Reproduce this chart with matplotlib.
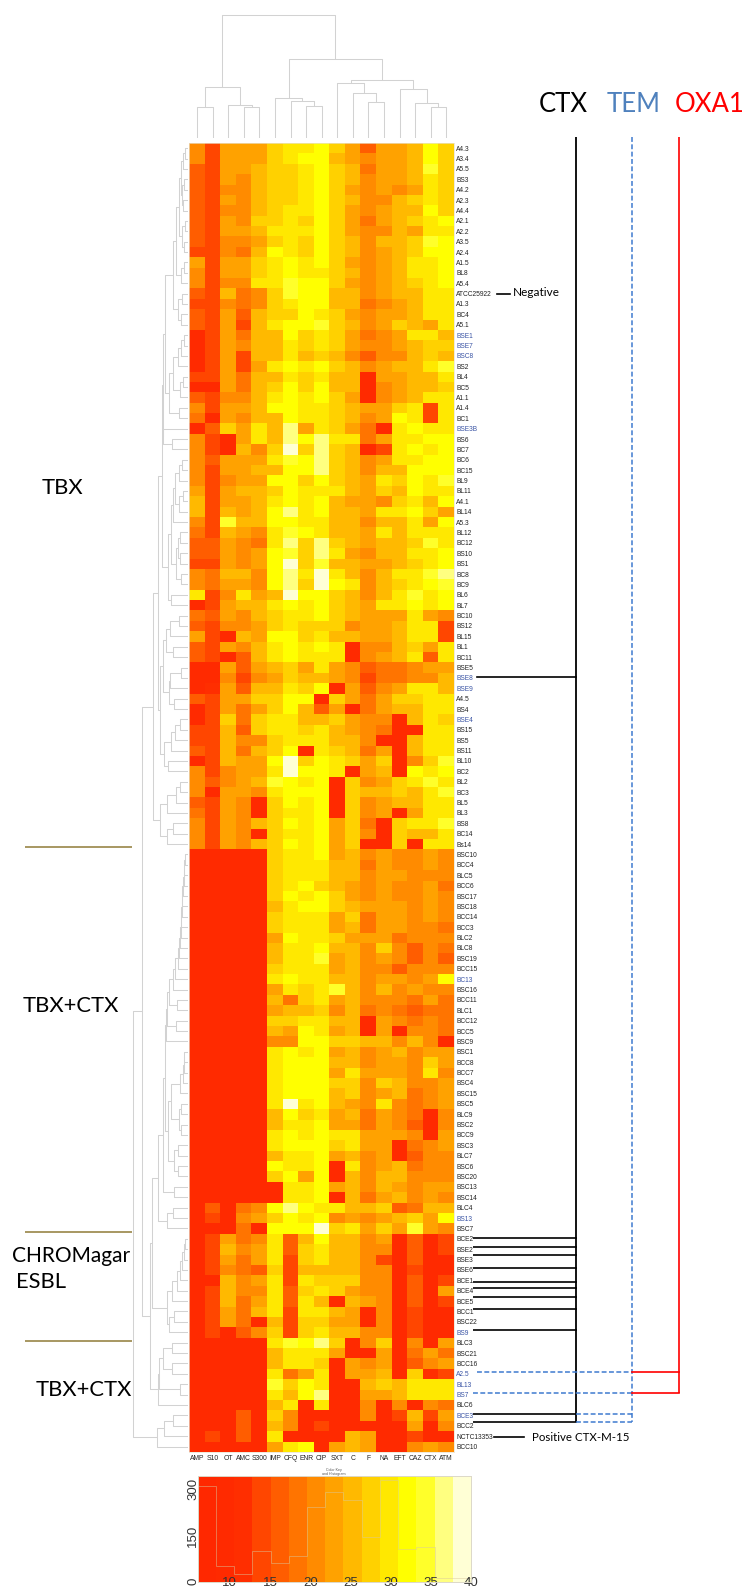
import numpy as np
import matplotlib
matplotlib.use("Agg")
import matplotlib.pyplot as plt
from matplotlib.colors import ListedColormap, BoundaryNorm

W, H = 747, 1591

columns = ["AMP","S10","OT","AMC","S300","IMP","CFQ","ENR","CIP","SXT","C","F","NA","EFT","CAZ","CTX","ATM"]

row_labels = ["A4.3","A3.4","A5.5","BS3","A4.2","A2.3","A4.4","A2.1","A2.2","A3.5","A2.4","A1.5","BL8","A5.4",
 "ATCC25922","A1.3","BC4","A5.1","BSE1","BSE7","BSC8","BS2","BL4","BC5","A1.1","A1.4","BC1","BSE3B",
 "BS6","BC7","BC6","BC15","BL9","BL11","A4.1","BL14","A5.3","BL12","BC12","BS10","BS1","BC8","BC9","BL6","BL7",
 "BC10","BS12","BL15","BL1","BC11","BSE5","BSE8","BSE9","A4.5","BS4","BSE4","BS15",
 "BS5","BS11","BL10","BC2","BL2","BC3","BL5","BL3","BS8","BC14","Bs14",
 "BSC10","BCC4","BLC5","BCC6","BSC17","BSC18","BCC14","BCC3","BLC2","BLC8","BSC19","BCC15","BC13","BSC16",
 "BCC11","BLC1","BCC12","BCC5","BSC9",
 "BSC1","BCC8","BCC7","BSC4","BSC15","BSC5","BLC9","BSC2","BCC9","BSC3","BLC7","BSC6","BSC20","BSC13","BSC14",
 "BLC4","BS13","BSC7",
 "BCE2","BSE2","BSE3","BSE6","BCE1","BCE4","BCE5","BCC1","BSC22","BS9","BLC3","BSC21","BCC16","A2.5","BL13",
 "BS7","BLC6","BCE3","BCC2","NCTC13353","BCC10"]

blue_labels = ["BSE1","BSE7","BSC8","BSE3B","BSE8","BSE9","BSE4","BC13","BS13","BS9","A2.5","BL13","BS7","BCE3"]

# colour class of every cell (hex digit 0-e = class of the 15-step key), one string per row
zone_classes = [
"63777 9aab9 74778b9","63777 9abb8 76778b9","43778 99ab9 85778c9","43768 99ab9 86778a9","43668 99ab9 76767a9",
"43768 99ab9 86689a9","43668 9aab9 76788b9","43769 9a9b9 75789ab","43778 aaab9 76687aa","43667 9a9b9 86889cb",
"33658 ba9b9 86789bb","73779 abab9 7678aab","63779 abaa9 8678aab","6366a acbb9 76789ab","43856 9cbb8 86788aa",
"33656 9abb8 85678aa","43748 99ba9 76778aa","43738 abbc9 867987a","13758 8b9a9 7567aa8","13768 8a9a9 7667899",
"13738 8a898 6466898","13737 abab9 86788ac","33758 8a9a8 817788a","11758 9b9b8 8167889","43668 abab9 71678aa",
"63778 bbaa9 8779a3a","51768 8baa9 867ba3a","1497a 8d7a9 751abaa",
"6317a 8dbda a57aabb","63186 9e9d9 813abab","64777 acbd9 867aabb","63778 8bbd9 8688bbb","63677 bb9b9 87a9bac",
"73788 9baaa 8798baa","83778 abab8 7769a8b","83878 bdab8 87aab97","63c88 bbaa8 8688a7b","53876 acba8 87a8aaa",
"44765 ad9d9 87889ca","44767 bc9da 7688aab","33767 be9c8 87789ab","65886 bdaea 868aacd","65776 bd9eb a689abc",
"a36a7 8ebb9 868acab","13788 abab9 87aabab","54768 9aab9 8777a76","43667 9a999 6778aa3","73187 bb9a8 8778aa3",
"43768 ababa 166897a","43148 abaaa 1678a4a","11747 897a7 6455677","11636 79887 6355668","12748 8a9b1 7467aa8",
"43779 9bb19 75799aa","13757 9b847 15788aa","13959 aa889 76618a9","33849 aa9a8 76511aa",
"33866 9aaa8 86118aa","43858 9b1a9 85718aa","13877 be9ba 979169c","63677 aebba 1781bab","64678 cbab1 9679aca",
"61776 abbb1 98898ac","43761 9bab1 96788aa","53761 9aab1 96717aa","63768 9bab7 9519aac","63761 9aab7 961988a",
"63768 9bab7 91191aa",
"11111 9aab7 8676676","11111 9aaa8 8576676","11111 9aaa8 8677666","11111 9ab98 7676675","11111 9bab9 7676676",
"11111 8abb9 8777676","11111 9aaa7 9577676","11111 9aaa7 8577665","11111 7baa9 7775666","11111 8aab8 8696465",
"11111 8aac7 8676464","11111 9aaa7 8664666","11111 abaa8 867767b","11111 7a9ac 8686766","11111 859a7 8666575",
"11111 78896 8565455","11111 99aa8 8176565","11111 87ba7 8171665","11111 66bb9 9886861",
"11111 abab7 8678677","11111 abbb8 8677697","11111 abbb7 a7776a6","11111 abbb9 9698667","11111 abbb8 9678567",
"11111 aeab8 76a6567","11111 8b9a7 8576516","11111 8aab7 7576416","11111 ababa a777617","11111 abbb9 a771567",
"11111 8aab7 8671466","11111 baab1 a678566","11111 9b7b1 8688666","11111 1aab7 8687677","11111 1aab1 8578676",
"14156 bdbaa 8894588","13167 9bab6 767897b","11151 bbbe9 a797c76",
"13756 a48b8 8671413","13867 a49a8 8661413","13757 a39a8 8631411","13654 93888 8661311","11867 a3a99 9661413",
"13866 a49a9 7661417","13857 a4a81 8761413","13758 a3aa8 7161311","13751 83997 7161311","13146 939a8 8661311",
"11111 acbd9 1691617","11111 8aaa7 1171575","11111 8aa91 7671467","11111 a57a1 7781923","11111 c9ba1 1898aaa",
"11111 a8bd1 1778aaa","11111 8a1a1 1616165","11141 96111 1613837","11141 86131 1111716","13141 a1111 8711311",
"11111 7ab17 8711676"]

key_colors = ["#FF2800","#FF2A00","#FF2E00","#FF4600","#FF5D00","#FF7400","#FF8B00","#FFA200","#FFB900",
              "#FFD100","#FFE800","#FFFF00","#FFFF2A","#FFFF80","#FFFFD5"]
key_min, key_max = 6, 40
hist_counts = [312,51,24,101,62,83,242,291,265,146,330,106,114,13,11]
hist_ticks = [0,150,300]
key_ticks = [10,15,20,25,30,35,40]

# column dendrogram: (height, left, right); 0 is a leaf
col_tree = [122.7,
    [51,[31.3,0,0],[32.7,0,[30.7,0,0]]],
    [78.7,
     [40.3,0,[36.7,0,[32.3,0,0]]],
     [58.3,
      [55.3,0,[44.7,0,[36.3,0,0]]],
      [48.7,0,[35.3,0,[30.7,0,0]]]]]]

def comb(heights):
    node = 0
    for h in heights:
        node = [h, node, 0]
    return node

# row dendrogram, merge heights in the same unit (distance from the heat map)
T1_11 = [9,[7,[5,[3,0,0],0],[6,[4,0,0],[5,0,0]]],[6,[3,0,0],[4,0,0]]]
T1_14 = [12,T1_11,[7,[4,0,0],0]]
T1_18 = [15,T1_14,[10,[6,0,0],[7,0,0]]]
T19_25 = [15,[10,[7,[4,0,0],0],0],[8,[5,0,0],0]]
T1_27 = [23,T1_18,[19,T19_25,[9,0,0]]]
T1_30 = [25,T1_27,[25,0,[16,0,0]]]
T31_37 = [15,[13,[9,[6,0,0],0],[9,[5,0,0],0]],0]
T38_43 = [12,[10,[8,0,0],[8,0,0]],[7,0,0]]
T31_45 = [20,[17,T31_37,T38_43],[17,0,0]]
T1_45 = [26,T1_30,T31_45]
T46_50 = [22,[18,[9,0,0],0],[15,0,0]]
T51_55 = [19,[18,[7,0,0],0],[14,0,0]]
T46_55 = [25,T46_50,T51_55]
T56_61 = [24,[17,[13,[8,0,0],0],0],[20,0,0]]
T62_68 = [28,[21,[12,[8,0,0],0],0],[21,[15,0,0],0]]
A1 = [35,[30,T1_45,[28,T46_55,T56_61]],T62_68]
T69_81 = comb([3,3.5,4,5,5.5,6,6.5,7,8,9,10,13])
T69_84 = [19,[15,T69_81,0],[11,0,0]]
T69_87 = [22,[21,T69_84,[12,0,0]],0]
T88_96 = [17,comb([4,4,5,8]),[9,[7,0,0],[7,0,0]]]
T88_100 = [20,T88_96,[14,[10,0,0],[10,0,0]]]
K = [30,[25,[23,T69_87,T88_100],[14,0,0]],[21,[15,0,0],0]]
T106_115 = [21,[16,comb([3,4,6,8,11]),0],[19,[14,0,0],0]]
Z = [36,K,T106_115]
T116_122 = [30,[29,[25,[16,0,0],[16,0,0]],[8,0,0]],0]
T123_126 = [31,[24,[15,0,0],0],0]
row_tree = [55,[45.7,A1,[38,Z,T116_122]],T123_126]

# ---------------------------------------------------------------------
def px_axes(fig, x0, y0, x1, y1, **kw):
    return fig.add_axes([x0/W, 1-y1/H, (x1-x0)/W, (y1-y0)/H], **kw)

SANS = ["Liberation Sans"]
LATO = ["Lato", "DejaVu Sans"]
DENDRO = "#d2d2d2"

fig = plt.figure(figsize=(W/100, H/100), dpi=100, facecolor="white")

edges = np.linspace(key_min, key_max, len(key_colors)+1)
centres = (edges[:-1]+edges[1:])/2
cmap = ListedColormap(key_colors)
norm = BoundaryNorm(edges, cmap.N)

cells = [[centres[int(ch,16)] for ch in r.replace(" ","")] for r in zone_classes]
zones = np.array(cells)

# heat map
hx0, hy0, hx1, hy1 = 189.3, 143, 454, 1451.7
ax = px_axes(fig, hx0, hy0, hx1, hy1)
ax.imshow(zones, cmap=cmap, norm=norm, aspect="auto", interpolation="nearest")
ax.yaxis.tick_right()
ax.set_yticks(range(len(row_labels)), row_labels, family=SANS, fontsize=4.8)
for t, lab in zip(ax.get_yticklabels(), row_labels):
    t.set_color("#3B55A5" if lab in blue_labels else "#222222")
ax.set_xticks(range(len(columns)), columns, family=SANS, fontsize=4.9, color="#222222")
ax.tick_params(axis="both", length=0)
ax.tick_params(axis="y", pad=1.5)
ax.tick_params(axis="x", pad=2.5)
for s in ax.spines.values():
    s.set_color("#e8e2cf"); s.set_linewidth(0.5)

# dendrograms
def draw(node, ax, counter, horizontal):
    if node == 0:
        pos = counter[0]; counter[0] += 1
        return pos, 0.0
    h, a, b = node
    pa, ha = draw(a, ax, counter, horizontal)
    pb, hb = draw(b, ax, counter, horizontal)
    p = [pa, pa, pb, pb]; q = [ha, h, h, hb]
    if horizontal:
        ax.plot(q, p, color=DENDRO, lw=0.75, solid_capstyle="butt")
    else:
        ax.plot(p, q, color=DENDRO, lw=0.75, solid_capstyle="butt")
    return (pa+pb)/2, h

adl = px_axes(fig, 125, hy0, 187.7, hy1)
adl.set_xlim(62.7, 0); adl.set_ylim(len(row_labels)-0.5, -0.5); adl.axis("off")
draw(row_tree, adl, [0], True)

adt = px_axes(fig, hx0, 0, hx1, 138)
adt.set_xlim(-0.5, len(columns)-0.5); adt.set_ylim(0, 138); adt.axis("off")
draw(col_tree, adt, [0], False)

# colour key with histogram
kx0, ky0, kx1, ky1 = 197.7, 1476, 471, 1581.7
ak = px_axes(fig, kx0, ky0, kx1, ky1)
ak.pcolormesh(edges, [0, 343], centres[None, :], cmap=cmap, norm=norm)
ak.stairs(hist_counts, edges, color="#d8c8a0", lw=0.6, alpha=0.55, baseline=0)
ak.set_xlim(key_min, key_max); ak.set_ylim(0, 343)
ak.set_xticks(key_ticks, [str(v) for v in key_ticks], family=SANS, fontsize=9.5, color="#333333")
ak.set_yticks(hist_ticks, [str(v) for v in hist_ticks], rotation=90, va="center",
              family=SANS, fontsize=9.5, color="#333333")
ak.tick_params(axis="y", length=0, pad=-1)
ak.tick_params(axis="x", length=0, pad=-3.5)
for s in ak.spines.values():
    s.set_color("#dcd8c8"); s.set_linewidth(0.7)

# annotations in pixel coordinates
ov = fig.add_axes([0, 0, 1, 1], facecolor="none")
ov.set_xlim(0, W); ov.set_ylim(H, 0); ov.axis("off")

CTX_X, TEM_X, OXA_X = 576, 632, 679
ctx_rows = [1238.3, 1246.7, 1255, 1267.7, 1281.7, 1288.3, 1297.3, 1309.3, 1330, 1413.7, 1422]
TEMBLUE = "#3F7BD0"
ov.plot([CTX_X, CTX_X], [136.7, 1422], color="black", lw=1.3, solid_capstyle="butt")
for y in ctx_rows:
    ov.plot([472.7, CTX_X+1], [y, y], color="black", lw=1.2, solid_capstyle="butt")
ov.plot([477, CTX_X], [677, 677], color="black", lw=1.2)
ov.plot([497, 510], [293.7, 293.7], color="black", lw=1.2)
ov.plot([494, 524], [1437, 1437], color="black", lw=1.2)

dash = (0, (3.2, 1.6))
ov.plot([TEM_X, TEM_X], [136.7, 1422], color=TEMBLUE, lw=1.1, ls=dash)
ov.plot([477, TEM_X], [1372, 1372], color=TEMBLUE, lw=1.1, ls=dash)
ov.plot([472.7, TEM_X], [1393, 1393], color=TEMBLUE, lw=1.1, ls=dash)
ov.plot([CTX_X, TEM_X], [1413.7, 1413.7], color=TEMBLUE, lw=1.1, ls=dash)
ov.plot([CTX_X, TEM_X], [1422, 1422], color=TEMBLUE, lw=1.1, ls=dash)
ov.plot([OXA_X, OXA_X], [136.7, 1393], color="#FF0000", lw=1.2, solid_capstyle="butt")
ov.plot([TEM_X, OXA_X], [1372, 1372], color="#FF0000", lw=1.2)
ov.plot([TEM_X, OXA_X], [1393, 1393], color="#FF0000", lw=1.2)

OLIVE = "#A08F55"
for y in [847, 1231.7, 1340.7]:
    ov.plot([25, 132.3], [y, y], color=OLIVE, lw=1.3, solid_capstyle="butt")

for s, x, c in [("CTX", 563, "black"), ("TEM", 634, "#4F81BD"), ("OXA1", 710, "#FF0000")]:
    ov.text(x, 105, s, color=c, ha="center", va="center", family=LATO, fontsize=18.5)

for s, x, y, ha in [("TBX", 62, 488, "center"), ("TBX+CTX", 71, 1006, "center"),
                    ("CHROMagar", 12, 1256, "left"), ("ESBL", 16, 1282, "left"),
                    ("TBX+CTX", 84, 1390, "center")]:
    ov.text(x, y, s, color="black", ha=ha, va="center", family=LATO,
            fontsize=15.0 if s == "CHROMagar" else 15.8)

ov.text(513, 293, "Negative", color="black", ha="left", va="center", family=LATO, fontsize=8.5)
ov.text(532, 1437.5, "Positive CTX-M-15", color="black", ha="left", va="center", family=LATO, fontsize=8.3)
ov.text(334, 1472.5, "Color Key\nand Histogram", color="#555555", ha="center", va="center",
        family=SANS, fontsize=2.6, linespacing=1)

fig.savefig("out.png", dpi=100, facecolor="white")
